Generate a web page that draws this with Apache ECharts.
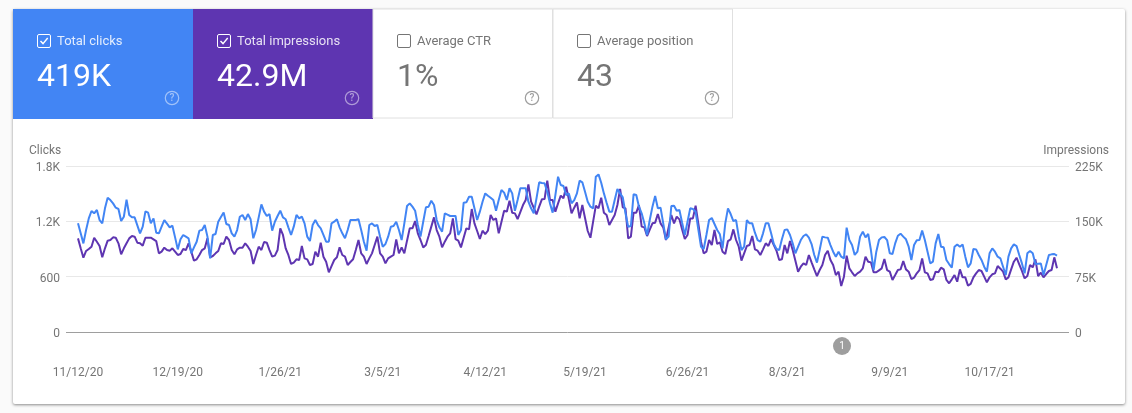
<!DOCTYPE html>
<html>
<head>
<meta charset="utf-8">
<style>html,body{margin:0;padding:0;background:#fafafa}#c{width:1132px;height:413px}</style>
<script src="https://cdn.jsdelivr.net/npm/echarts@6/dist/echarts.min.js"></script>
</head>
<body>
<div id="c"></div>
<script>
const clicks = [
1178,1070,961,1106,1232,1312,1287,1323,1214,1178,
1341,1456,1431,1395,1348,1334,1203,1250,1435,1269,
1243,1243,1156,1070,1142,1308,1294,1178,1232,1077,
1070,1142,1214,1175,1135,1153,1026,896,1005,1052,
1034,1016,853,918,979,1099,1106,1160,1034,799,
1052,1063,1196,1247,1297,1171,1160,1070,1034,1106,
1250,1269,1214,1279,1222,1016,1106,1243,1384,1305,
1258,1279,1099,1196,1258,1315,1243,1222,1135,1052,
1142,1269,1232,1250,1178,1034,987,1160,1214,1160,
1124,1052,979,979,1178,1196,1222,1135,1070,1016,
1106,1214,1214,1214,1222,1106,979,882,1160,1178,
1149,1160,1034,925,954,1034,1142,1149,1196,1106,
997,1178,1366,1395,1359,1315,1160,1034,1196,1352,
1359,1424,1377,1214,1135,1088,1287,1272,1258,1258,
1258,1052,1106,1402,1406,1467,1467,1341,1214,1305,
1413,1503,1478,1456,1431,1315,1431,1540,1511,1431,
1558,1503,1315,1431,1558,1558,1558,1413,1341,1287,
1449,1623,1615,1612,1521,1395,1294,1485,1684,1594,
1583,1485,1503,1395,1431,1503,1641,1623,1521,1413,
1359,1341,1684,1709,1619,1503,1402,1305,1305,1431,
1550,1503,1460,1287,1142,1149,1493,1485,1359,1287,
1178,1052,1214,1359,1475,1341,1348,1178,1005,1034,
1366,1370,1315,1323,1185,1052,1196,1341,1334,1305,
1113,925,900,1052,1214,1236,1171,1106,1059,907,
1178,1341,1279,1203,1214,1034,889,925,1214,1178,
1178,1077,997,979,1070,1178,1178,1070,954,900,
889,1005,1106,1113,1052,961,853,925,997,1041,
1059,1023,954,835,752,889,1034,1026,1023,943,
871,817,871,817,799,1131,997,943,835,871,
1034,1088,1026,1063,889,672,871,997,1026,1030,
997,853,846,961,1044,1066,1034,1005,925,781,
943,994,997,1099,997,871,744,763,961,1063,
925,918,781,737,698,925,950,925,950,817,
701,744,900,896,835,781,708,654,853,907,
871,817,799,708,618,817,907,950,932,835,
744,636,853,878,853,737,741,744,618,726,
835,842,846,828
];
const impressionsK = [
126.9,113.4,100.7,109.8,112.5,115.6,127.8,122.4,116.6,101.2,
113.4,123.8,124.7,128.3,127.8,120.2,105.3,113.4,120.2,126.9,
130.1,129.2,121.1,120.2,117,127.8,127.8,127.8,125.6,123.3,
106.6,108.9,114.3,111.1,110.2,113.4,108.9,104.4,105.7,112.5,
111.1,120.2,108.9,96.7,98.5,104.4,111.1,113.4,126.9,101.2,
103,106.6,109.8,120.2,119.3,129.2,124.7,111.1,105.3,112,
114.3,114.3,120.2,115.6,109.8,92.2,104.4,115.6,111.1,122,
121.1,111.1,102.1,103.5,111.1,140.5,131.5,113.4,104.4,92.2,
94,98.5,97.6,116.6,99.8,98.5,90.8,92.2,108.9,102.1,
121.1,102.1,95.3,80.9,89.4,97.6,101.2,114.7,104.4,102.1,
90.8,94.9,98.5,111.1,124.7,106.6,102.1,92.2,99.8,106.6,
117.9,129.2,106.6,102.1,93.1,99.8,102.1,104.4,125.6,106.6,
114.7,106.6,123.8,140.5,140.5,150.4,133.7,124.7,114.7,117.9,
130.1,142.8,155.4,138.2,129.2,114.7,122.4,129.2,133.7,154,
126,123.8,114.7,127.8,140.5,139.1,166.7,147.3,136.9,126,
137.3,132.8,137.3,158.6,151.8,154,133.7,149.1,164.4,163.1,
178,161.7,160.8,153.1,162.6,172.1,178.9,200.1,176.6,168.1,
159.5,169.9,179.8,180.2,205.1,178.9,178.9,163.1,174.4,184.8,
181.2,197,179.8,160.8,168.5,175.7,154,172.1,154.5,136.9,
127.8,149.5,171.2,167.6,182.1,161.7,158.6,145,151.8,158.6,
172.1,193.8,169,167.6,126.9,129.2,161.7,161.7,172.1,142.8,
141.8,130.1,138.7,147.3,148.2,159.9,147.3,141.8,124.7,141.8,
158.6,147.3,156.3,152.7,139.1,126,131.5,154,154,171.2,
147.3,122.4,106.6,108.9,124.7,117.9,138.2,119.3,121.5,108.9,
105.7,123.3,125.6,139.1,124.7,115.6,96.7,106.6,116.6,117.9,
130.1,112,110.2,104.4,112,120.2,116.6,126,117.9,110.2,
97.6,98.5,117.9,106.6,123.3,111.1,96.7,81.8,88.5,93.1,
90.8,104.4,94.4,84.9,75.9,84,90.8,104.4,110.2,97.6,
90.8,77.2,81.8,62.3,75,103.5,86.3,80.9,75.9,79.5,
81.8,86.3,102.1,95.3,94.4,80.9,80.9,83.6,86.3,98.9,
84,81.8,70.5,77.2,84,84.9,96.2,84.9,81.8,71.8,
73.6,79.5,84,99.8,80.9,79.5,70.5,71.4,81.8,80.9,
87.2,84.9,70.5,66,71.4,77.2,68.2,84.9,74.1,74.1,
62.8,65.1,74.1,79.5,84,82.7,75,67.3,74.1,78.2,
79.5,89.4,85.8,81.8,71.4,74.1,84.9,95.3,100.7,91.7,
82.7,72.7,75.9,90.8,87.6,98.5,75.9,80.4,74.1,78.6,
82.7,84,101.2,86.3
];
const tickDays = [0,37,75,113,151,188,226,263,301,338];
const tickLabels = ['11/12/20','12/19/20','1/26/21','3/5/21','4/12/21','5/19/21','6/26/21','8/3/21','9/9/21','10/17/21'];
const tileTitles = ['Total clicks','Total impressions','Average CTR','Average position'];
const tileValues = ['419K','42.9M','1%','43'];
const tileChecked = [true,true,false,false];
const tileFills = ['#4285f4','#5e35b1','#ffffff','#ffffff'];

const font = 'Roboto';
const gfx = [];
gfx.push({type:'rect',z:-2,shape:{x:13,y:9,width:1112,height:395,r:2},
  style:{fill:'#fff',shadowBlur:3,shadowOffsetY:1,shadowColor:'rgba(0,0,0,0.45)'}});
tileTitles.forEach(function(t,i){
  const x0 = 13+180*i, on = tileChecked[i];
  const fg = on ? '#ffffff' : '#757575';
  gfx.push({type:'rect',z:-1,shape:{x:x0,y:9,width:on?180:179.5,height:on?110:109},
    style:{fill:tileFills[i],stroke:on?null:'#e0e0e0',lineWidth:1}});
  gfx.push({type:'rect',shape:{x:x0+24.5,y:34.5,width:13,height:13,r:1.5},
    style:{fill:'transparent',stroke:fg,lineWidth:1}});
  if(on) gfx.push({type:'polyline',shape:{points:[[x0+27.5,41],[x0+30,43.6],[x0+34.7,38]]},
    style:{fill:null,stroke:'#fff',lineWidth:1.4}});
  gfx.push({type:'text',style:{x:x0+44,y:42,text:t,font:'13px '+font,fill:on?'rgba(255,255,255,0.85)':'#757575',verticalAlign:'middle',align:'left'}});
  gfx.push({type:'text',style:{x:x0+24,y:78,text:tileValues[i],font:'32px '+font,fill:fg,verticalAlign:'middle',align:'left'}});
  gfx.push({type:'circle',shape:{cx:x0+159,cy:98,r:6.7},
    style:{fill:'transparent',stroke:on?'rgba(255,255,255,0.5)':'#9e9e9e',lineWidth:1.2}});
  gfx.push({type:'text',style:{x:x0+159,y:98.5,text:'?',font:'500 10px '+font,fill:on?'rgba(255,255,255,0.5)':'#9e9e9e',verticalAlign:'middle',align:'center'}});
});
gfx.push({type:'circle',shape:{cx:842,cy:346,r:9},style:{fill:'#9e9e9e'}});
gfx.push({type:'text',style:{x:842,y:346.5,text:'1',font:'10px '+font,fill:'#fff',verticalAlign:'middle',align:'center'}});
gfx.push({type:'text',style:{x:29,y:151,text:'Clicks',font:'12px '+font,fill:'#757575',verticalAlign:'middle',align:'left'}});
gfx.push({type:'text',style:{x:1109,y:151,text:'Impressions',font:'12px '+font,fill:'#757575',verticalAlign:'middle',align:'right'}});

const chart = echarts.init(document.getElementById('c'));
const lbl = {fontFamily:font,fontSize:12,color:'#757575'};
const nudged = {a:Object.assign({},lbl,{padding:[4,0,0,0]})};
chart.setOption({
  animation:false,
  textStyle:{fontFamily:font},
  graphic:{elements:gfx},
  grid:{left:66,right:63,top:166,bottom:81},
  tooltip:{show:false},
  xAxis:{type:'value',min:-4.45,max:367.45,
    axisLine:{show:false},axisTick:{show:false},splitLine:{show:false},
    axisLabel:Object.assign({},lbl,{margin:35,customValues:tickDays,
      formatter:function(v){return tickLabels[tickDays.indexOf(v)]||'';}})},
  yAxis:[
    {type:'value',min:0,max:1800,interval:600,
     axisLine:{show:false},axisTick:{show:false},
     splitLine:{lineStyle:{color:'#e8e8e8',width:1}},
     axisLabel:Object.assign({},lbl,{margin:6,rich:nudged,formatter:function(v){return '{a|'+(v>=1000?(v/1000)+'K':String(v))+'}';}})},
    {type:'value',min:0,max:225,interval:75,
     axisLine:{show:false},axisTick:{show:false},splitLine:{show:false},
     axisLabel:Object.assign({},lbl,{margin:6,rich:nudged,formatter:function(v){return '{a|'+(v?v+'K':'0')+'}';}})}
  ],
  series:[
    {name:'Impressions',type:'line',yAxisIndex:1,showSymbol:false,symbol:'none',
     lineStyle:{color:'#5e35b1',width:2},itemStyle:{color:'#5e35b1'},
     data:impressionsK.map(function(v,i){return [i,v];})},
    {name:'Clicks',type:'line',yAxisIndex:0,showSymbol:false,symbol:'none',
     lineStyle:{color:'#4285f4',width:2},itemStyle:{color:'#4285f4'},
     data:clicks.map(function(v,i){return [i,v];}),
     markLine:{silent:true,symbol:'none',label:{show:false},
       lineStyle:{color:'#9e9e9e',width:1,type:'solid'},data:[{yAxis:0}]}}
  ]
});
</script>
</body>
</html>
